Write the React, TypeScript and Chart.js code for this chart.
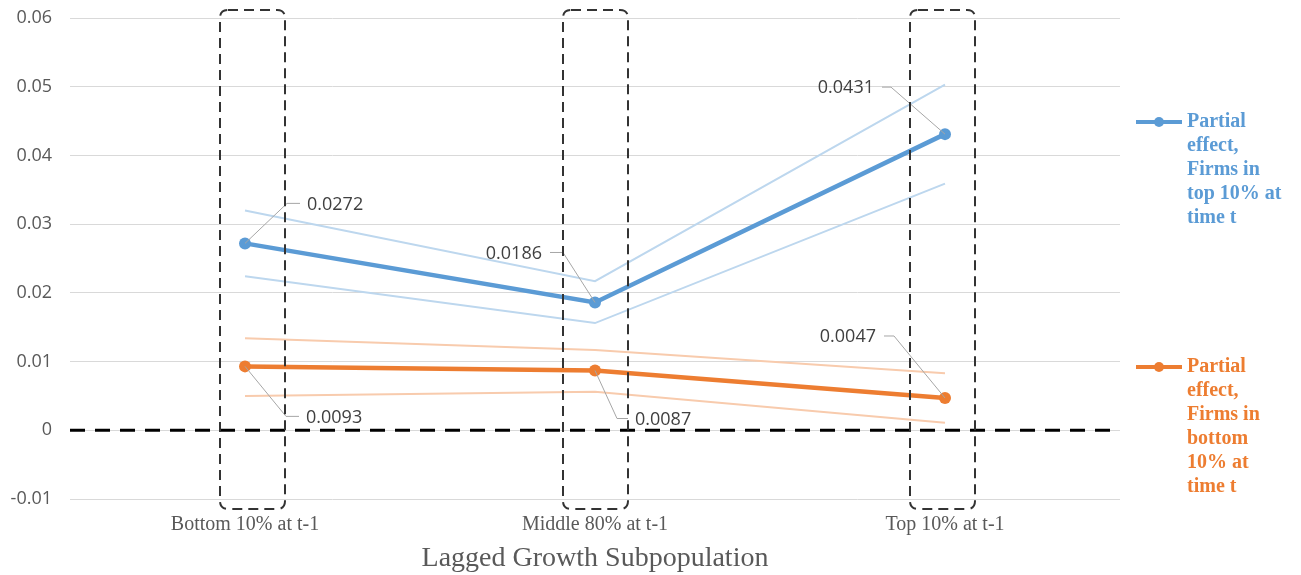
import { useEffect, useRef } from 'react';
import { Chart, registerables } from 'chart.js';

Chart.register(...registerables);

// ---------- data ----------
const categories = ['Bottom 10% at t-1', 'Middle 80% at t-1', 'Top 10% at t-1'];
const topFirms = [0.0272, 0.0186, 0.0431];
const topUpper = [0.032, 0.0217, 0.0503];
const topLower = [0.0224, 0.0156, 0.0359];
const bottomFirms = [0.0093, 0.0087, 0.0047];
const bottomUpper = [0.0134, 0.0117, 0.0083];
const bottomLower = [0.005, 0.0056, 0.0011];
const yMin = -0.01;
const yMax = 0.06;
const yStep = 0.01;
const topLegend = ['Partial', 'effect,', 'Firms in', 'top 10% at', 'time t'];
const bottomLegend = ['Partial', 'effect,', 'Firms in', 'bottom', '10% at', 'time t'];
const xTitle = 'Lagged Growth Subpopulation';

// ---------- styles ----------
const BLUE = '#5B9BD5';
const ORANGE = '#ED7D31';
const BLUE_LIGHT = '#BDD7EE';
const ORANGE_LIGHT = '#F8CBAD';
const GRAY_TEXT = '#595959';
const NUM_FONT = '"Open Sans", "Noto Sans", sans-serif';
const SERIF = '"Liberation Serif", "DejaVu Serif", serif';

// label leader geometry (pixel offsets from the point): elbow dx, dy, tail length
const topLabelGeom = [
  { dx: 42, dy: -40, tail: 13 },
  { dx: -32, dy: -50, tail: -13 },
  { dx: -54, dy: -47, tail: -9 },
];
const bottomLabelGeom = [
  { dx: 41, dy: 50, tail: 13 },
  { dx: 22, dy: 48, tail: 11 },
  { dx: -51, dy: -62, tail: -10 },
];
// dashed box horizontal extents relative to each category's pixel
const boxGeom = [
  { l: -25, r: 40 },
  { l: -32, r: 33 },
  { l: -35, r: 30 },
];

const overlayPlugin = {
  id: 'overlay',
  beforeDatasetsDraw(chart: any) {
    const { ctx, chartArea, scales } = chart;
    const y0 = scales.y.getPixelForValue(0);
    ctx.save();
    ctx.strokeStyle = '#000000';
    ctx.lineWidth = 3;
    ctx.setLineDash([15, 10]);
    ctx.beginPath();
    ctx.moveTo(chartArea.left, y0);
    ctx.lineTo(chartArea.right, y0);
    ctx.stroke();
    ctx.restore();
  },
  afterDatasetsDraw(chart: any) {
    const { ctx, scales } = chart;
    const xs = scales.x;
    const ys = scales.y;

    // data labels with leader lines
    const drawLabels = (vals: number[], geom: any[]) => {
      vals.forEach((v, i) => {
        const px = xs.getPixelForValue(i);
        const py = ys.getPixelForValue(v);
        const g = geom[i];
        const ex = px + g.dx;
        const ey = py + g.dy;
        const tx = ex + g.tail;
        ctx.save();
        ctx.strokeStyle = '#A6A6A6';
        ctx.lineWidth = 1;
        ctx.beginPath();
        ctx.moveTo(px, py);
        ctx.lineTo(ex, ey);
        ctx.lineTo(tx, ey);
        ctx.stroke();
        ctx.fillStyle = '#404040';
        ctx.font = `18px ${NUM_FONT}`;
        ctx.textBaseline = 'middle';
        if (g.tail > 0) {
          ctx.textAlign = 'left';
          ctx.fillText(v.toFixed(4), tx + 7, ey + 1);
        } else {
          ctx.textAlign = 'right';
          ctx.fillText(v.toFixed(4), tx - 8, ey + 1);
        }
        ctx.restore();
      });
    };
    drawLabels(topFirms, topLabelGeom);
    drawLabels(bottomFirms, bottomLabelGeom);

    // dashed rounded boxes
    const top = ys.getPixelForValue(yMax) - 8;
    const bottom = ys.getPixelForValue(yMin) + 10;
    categories.forEach((_, i) => {
      const cx = xs.getPixelForValue(i);
      const g = boxGeom[i];
      const l = cx + g.l;
      const r = cx + g.r;
      const rad = 8;
      ctx.save();
      ctx.strokeStyle = '#333333';
      ctx.lineWidth = 2;
      ctx.setLineDash([10, 6]);
      ctx.beginPath();
      ctx.moveTo(l + rad, top);
      ctx.lineTo(r - rad, top);
      ctx.quadraticCurveTo(r, top, r, top + rad);
      ctx.lineTo(r, bottom - rad);
      ctx.quadraticCurveTo(r, bottom, r - rad, bottom);
      ctx.lineTo(l + rad, bottom);
      ctx.quadraticCurveTo(l, bottom, l, bottom - rad);
      ctx.lineTo(l, top + rad);
      ctx.quadraticCurveTo(l, top, l + rad, top);
      ctx.closePath();
      ctx.stroke();
      ctx.restore();
    });
  },
  afterDraw(chart: any) {
    const { ctx } = chart;
    const drawEntry = (lines: string[], color: string, y: number) => {
      ctx.save();
      ctx.strokeStyle = color;
      ctx.lineWidth = 4;
      ctx.beginPath();
      ctx.moveTo(1136, y);
      ctx.lineTo(1182, y);
      ctx.stroke();
      ctx.fillStyle = color;
      ctx.beginPath();
      ctx.arc(1159, y, 5, 0, Math.PI * 2);
      ctx.fill();
      ctx.font = `bold 20px ${SERIF}`;
      ctx.textAlign = 'left';
      ctx.textBaseline = 'middle';
      lines.forEach((t, k) => ctx.fillText(t, 1187, y + k * 24));
      ctx.restore();
    };
    drawEntry(topLegend, BLUE, 122);
    drawEntry(bottomLegend, ORANGE, 367);
  },
};

export default function App() {
  const ref = useRef<HTMLCanvasElement | null>(null);
  useEffect(() => {
    if (!ref.current) return;
    const chart = new Chart(ref.current, {
      type: 'line',
      data: {
        labels: categories,
        datasets: [
          {
            label: 'Partial effect, Firms in top 10% at time t',
            data: topFirms,
            borderColor: BLUE,
            backgroundColor: BLUE,
            borderWidth: 4.5,
            pointRadius: 6,
            pointHoverRadius: 6,
            pointBorderWidth: 0,
            pointBackgroundColor: BLUE,
            tension: 0,
          },
          {
            label: 'Partial effect, Firms in bottom 10% at time t',
            data: bottomFirms,
            borderColor: ORANGE,
            backgroundColor: ORANGE,
            borderWidth: 4.5,
            pointRadius: 6,
            pointHoverRadius: 6,
            pointBorderWidth: 0,
            pointBackgroundColor: ORANGE,
            tension: 0,
          },
          { label: 'top upper', data: topUpper, borderColor: BLUE_LIGHT, borderWidth: 2, pointRadius: 0, tension: 0 },
          { label: 'top lower', data: topLower, borderColor: BLUE_LIGHT, borderWidth: 2, pointRadius: 0, tension: 0 },
          { label: 'bottom upper', data: bottomUpper, borderColor: ORANGE_LIGHT, borderWidth: 2, pointRadius: 0, tension: 0 },
          { label: 'bottom lower', data: bottomLower, borderColor: ORANGE_LIGHT, borderWidth: 2, pointRadius: 0, tension: 0 },
        ],
      },
      options: {
        animation: false,
        responsive: true,
        maintainAspectRatio: false,
        events: [],
        layout: { padding: { top: 18, right: 181, left: 0, bottom: 0 } },
        plugins: {
          legend: { display: false },
          tooltip: { enabled: false },
        },
        scales: {
          x: {
            type: 'category',
            offset: true,
            grid: { display: false, drawTicks: false },
            border: { display: false },
            ticks: {
              color: GRAY_TEXT,
              font: { family: SERIF, size: 20 },
              padding: 14,
              maxRotation: 0,
              autoSkip: false,
            },
            title: {
              display: true,
              text: xTitle,
              color: GRAY_TEXT,
              font: { family: SERIF, size: 28 },
              padding: { top: 0, bottom: 0 },
            },
            afterFit: (s: any) => {
              s.height = 76;
            },
          },
          y: {
            min: yMin,
            max: yMax,
            grid: {
              color: '#D9D9D9',
              lineWidth: 1,
              drawTicks: true,
              tickLength: 18,
              tickColor: 'rgba(0,0,0,0)',
            },
            border: { display: false },
            ticks: {
              stepSize: yStep,
              color: GRAY_TEXT,
              font: { family: NUM_FONT, size: 18 },
              padding: 0,
              callback: (v: any) => {
                const n = Math.round(Number(v) * 100) / 100;
                return n === 0 ? '0' : n.toFixed(2);
              },
            },
            afterFit: (s: any) => {
              s.width = 70;
            },
          },
        },
      },
      plugins: [overlayPlugin],
    });
    return () => chart.destroy();
  }, []);

  return (
    <div style={{ position: 'fixed', left: 0, top: 0, width: 1301, height: 575, background: '#ffffff' }}>
      <canvas ref={ref} />
    </div>
  );
}
